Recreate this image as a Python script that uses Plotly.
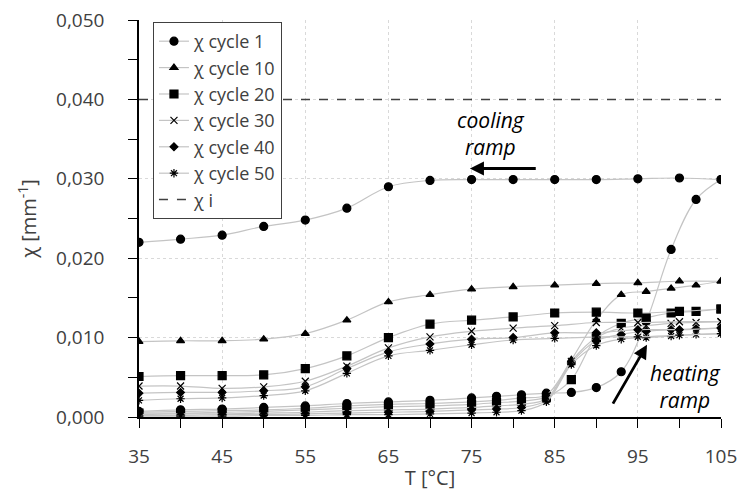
import plotly.graph_objects as go

# Temperatures
T_heat = [35, 40, 45, 50, 55, 60, 65, 70, 75, 78, 81, 84, 87, 90, 93, 96, 99, 102, 105]
T_cool = [105, 100, 95, 90, 85, 80, 75, 70, 65, 60, 55, 50, 45, 40, 35]

# heating ramps
h1 = [0.0007, 0.0009, 0.0010, 0.0012, 0.0014, 0.0017, 0.0019, 0.0021, 0.0024, 0.0026, 0.0028, 0.0030, 0.0031, 0.0037, 0.0057, 0.0120, 0.0211, 0.0274, 0.0299]
h10 = [0.0006, 0.0007, 0.0008, 0.0009, 0.0011, 0.0014, 0.0016, 0.0017, 0.0019, 0.0021, 0.0024, 0.0028, 0.0072, 0.0122, 0.0154, 0.0158, 0.0162, 0.0166, 0.0171]
h20 = [0.0005, 0.0005, 0.0006, 0.0007, 0.0009, 0.0011, 0.0013, 0.0014, 0.0016, 0.0018, 0.0020, 0.0025, 0.0047, 0.0100, 0.0118, 0.0125, 0.0131, 0.0133, 0.0136]
h30 = [0.0003, 0.0004, 0.0004, 0.0005, 0.0006, 0.0008, 0.0009, 0.0010, 0.0012, 0.0014, 0.0016, 0.0023, 0.0070, 0.0100, 0.0112, 0.0115, 0.0118, 0.0119, 0.0120]
h40 = [0.0002, 0.0002, 0.0003, 0.0003, 0.0004, 0.0005, 0.0006, 0.0007, 0.0009, 0.0010, 0.0012, 0.0021, 0.0068, 0.0096, 0.0104, 0.0108, 0.0110, 0.0111, 0.0112]
h50 = [0.0001, 0.0001, 0.0001, 0.0002, 0.0002, 0.0003, 0.0003, 0.0004, 0.0005, 0.0006, 0.0008, 0.0019, 0.0066, 0.0090, 0.0098, 0.0100, 0.0102, 0.0104, 0.0105]

# cooling ramps
c1 = [0.0299, 0.0301, 0.0300, 0.0299, 0.0299, 0.0299, 0.0299, 0.0298, 0.0290, 0.0263, 0.0248, 0.0240, 0.0229, 0.0224, 0.0220]
c10 = [0.0171, 0.0171, 0.0169, 0.0168, 0.0166, 0.0164, 0.0161, 0.0154, 0.0145, 0.0122, 0.0105, 0.0098, 0.0096, 0.0096, 0.0095]
c20 = [0.0136, 0.0133, 0.0131, 0.0132, 0.0131, 0.0126, 0.0122, 0.0117, 0.0100, 0.0077, 0.0061, 0.0053, 0.0052, 0.0052, 0.0051]
c30 = [0.0120, 0.0120, 0.0119, 0.0119, 0.0115, 0.0112, 0.0108, 0.0101, 0.0087, 0.0064, 0.0045, 0.0038, 0.0036, 0.0039, 0.0039]
c40 = [0.0112, 0.0110, 0.0110, 0.0106, 0.0106, 0.0100, 0.0098, 0.0092, 0.0082, 0.0061, 0.0038, 0.0033, 0.0031, 0.0031, 0.0030]
c50 = [0.0105, 0.0103, 0.0101, 0.0101, 0.0099, 0.0097, 0.0091, 0.0084, 0.0077, 0.0055, 0.0033, 0.0027, 0.0024, 0.0023, 0.0021]

chi_i = 0.040
T_range = [35, 105]

names = ["χ cycle 1", "χ cycle 10", "χ cycle 20", "χ cycle 30", "χ cycle 40", "χ cycle 50"]
heats = [h1, h10, h20, h30, h40, h50]
cools = [c1, c10, c20, c30, c40, c50]
symbols = ["circle", "triangle-up", "square", "x-thin-open", "diamond", "asterisk-open"]
sizes = [8, 7, 8, 7, 6, 7]

fig = go.Figure()
LINE = "#c4c4c4"
for name, h, c, s, sz in zip(names, heats, cools, symbols, sizes):
    mk = dict(symbol=s, size=sz, color="black", line=dict(color="black", width=1.2))
    fig.add_trace(go.Scatter(x=T_heat, y=h, mode="lines+markers", name=name, legendgroup=name,
                             line=dict(color=LINE, width=1.2, shape="spline", smoothing=1.0), marker=mk))
    fig.add_trace(go.Scatter(x=T_cool, y=c, mode="lines+markers", name=name, legendgroup=name, showlegend=False,
                             line=dict(color=LINE, width=1.2, shape="spline", smoothing=1.0), marker=mk))

fig.add_trace(go.Scatter(x=T_range, y=[chi_i, chi_i], mode="lines", name="χ i",
                         line=dict(color="#404040", width=1.5, dash="dash")))

fig.add_annotation(x=74.8, y=0.0313, ax=82.9, ay=0.0313, xref="x", yref="y", axref="x", ayref="y",
                   text="", showarrow=True, arrowhead=2, arrowsize=1, arrowwidth=2.8, arrowcolor="black")
fig.add_annotation(x=96.1, y=0.0091, ax=91.9, ay=0.0015, xref="x", yref="y", axref="x", ayref="y",
                   text="", showarrow=True, arrowhead=2, arrowsize=1, arrowwidth=2.8, arrowcolor="black")
fig.add_annotation(x=77.3, y=0.0357, xref="x", yref="y", text="<i>cooling</i><br><i>ramp</i>", showarrow=False,
                   font=dict(size=21, color="black"))
fig.add_annotation(x=100.7, y=0.0039, xref="x", yref="y", text="<i>heating</i><br><i>ramp</i>", showarrow=False,
                   font=dict(size=21, color="black"))

FONT = "Open Sans, Lato, sans-serif"
axis_common = dict(showline=True, linecolor="black", linewidth=1.5, ticks="outside", ticklen=9,
                   tickcolor="black", showgrid=True, gridcolor="#d9d9d9", griddash="dot", gridwidth=1,
                   zeroline=False, automargin=False, tickfont=dict(family=FONT, size=19, color="#404040"))

fig.update_xaxes(range=[35, 105], tick0=35, dtick=10, ticklabelstandoff=12,
                 title=dict(text="T [°C]", font=dict(family=FONT, size=20, color="#404040"), standoff=3),
                 minor=dict(dtick=5, tick0=35, ticks="outside", ticklen=9, tickcolor="black", showgrid=False),
                 **axis_common)
fig.update_yaxes(range=[0, 0.05], dtick=0.01, tickformat=".3f", ticklabelstandoff=20,
                 title=dict(text="χ [mm<sup>-1</sup>]", font=dict(family=FONT, size=20, color="#404040"), standoff=14),
                 minor=dict(dtick=0.005, ticks="outside", ticklen=9, tickcolor="black", showgrid=False),
                 **axis_common)

fig.update_layout(
    width=745, height=493,
    margin=dict(l=139, r=24, t=20, b=76),
    paper_bgcolor="white", plot_bgcolor="white",
    separators=", ",
    font=dict(family=FONT, size=18, color="#404040"),
    legend=dict(x=0.024, y=0.995, xanchor="left", yanchor="top", bgcolor="white",
                bordercolor="#404040", borderwidth=1, font=dict(family=FONT, size=18, color="#404040"),
                tracegroupgap=0, itemwidth=30),
)

fig.write_html("out.html")
